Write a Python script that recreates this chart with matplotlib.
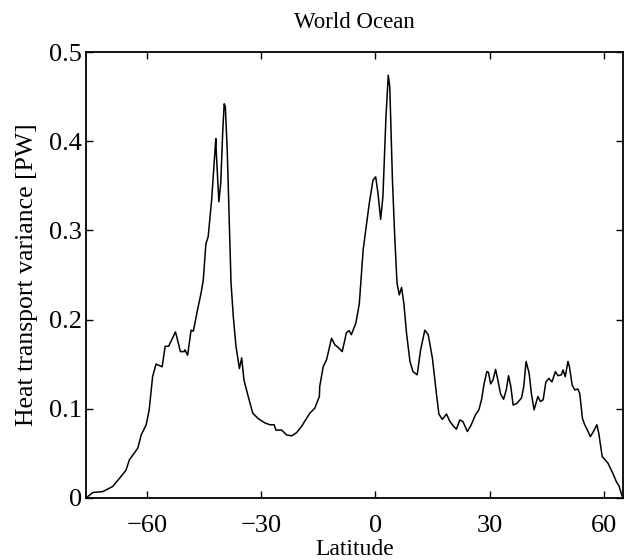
import numpy as np
from matplotlib import pyplot as plt

lat = [-75.5, -74.2, -71.6, -69.0, -66.8, -65.5, -64.6, -62.4, -61.5, -60.2,
       -59.4, -58.5, -57.6, -56.0, -55.2, -54.3, -52.5, -52.3, -51.2, -50.2,
       -50.0, -49.3, -48.4, -47.8, -46.7, -45.8, -45.2, -44.5, -43.9, -43.0,
       -41.9, -41.8, -41.1, -40.6, -40.1, -39.7, -39.4, -38.9, -38.4, -37.9,
       -37.3, -36.6, -35.7, -35.1, -34.5, -33.4, -32.2, -30.8, -29.0, -27.7,
       -26.6, -26.1, -24.6, -23.3, -22.0, -20.7, -19.4, -18.1, -17.2, -15.9,
       -14.7, -14.6, -13.7, -12.8, -11.5, -10.6, -9.8, -8.7, -7.6, -6.9,
       -6.3, -5.1, -4.2, -3.2, -1.6, -0.6, 0.1, 0.7, 1.4, 2.0,
       2.8, 3.4, 3.8, 4.5, 5.1, 5.7, 6.3, 6.9, 7.5, 8.2,
       9.1, 9.9, 11.0, 11.9, 13.0, 13.9, 15.0, 16.1, 16.7, 17.6,
       18.7, 19.6, 20.6, 21.3, 22.2, 23.0, 24.2, 25.2, 26.3, 27.2,
       27.9, 28.6, 29.3, 29.7, 30.3, 30.9, 31.6, 32.2, 32.9, 33.7,
       34.4, 35.0, 35.6, 36.2, 37.2, 38.4, 39.0, 39.6, 40.4, 41.0,
       41.7, 42.7, 43.4, 44.1, 44.8, 45.6, 46.4, 47.3, 48.0, 48.9,
       49.3, 49.9, 50.6, 51.0, 51.7, 52.4, 53.2, 53.7, 54.4, 55.0,
       55.7, 56.5, 57.3, 58.2, 58.7, 59.6, 60.2, 61.1, 62.3, 63.3,
       64.0, 64.6, 64.9]
variance = [0.0015, 0.006, 0.007, 0.0127, 0.024, 0.031, 0.0426, 0.0557, 0.0706, 0.0818,
            0.0987, 0.136, 0.150, 0.147, 0.170, 0.170, 0.186, 0.183, 0.164, 0.164,
            0.166, 0.160, 0.188, 0.187, 0.211, 0.229, 0.244, 0.285, 0.293, 0.334,
            0.403, 0.390, 0.332, 0.353, 0.409, 0.442, 0.439, 0.390, 0.315, 0.241,
            0.203, 0.170, 0.145, 0.157, 0.132, 0.114, 0.095, 0.089, 0.084, 0.082,
            0.082, 0.076, 0.076, 0.0706, 0.0695, 0.073, 0.080, 0.089, 0.095, 0.1006,
            0.1136, 0.125, 0.147, 0.155, 0.179, 0.1715, 0.169, 0.164, 0.185, 0.1876,
            0.183, 0.196, 0.218, 0.278, 0.330, 0.3565, 0.360, 0.3416, 0.3124, 0.338,
            0.4275, 0.474, 0.461, 0.3565, 0.293, 0.241, 0.2276, 0.236, 0.218, 0.1846,
            0.153, 0.1416, 0.138, 0.166, 0.188, 0.183, 0.1566, 0.115, 0.094, 0.088,
            0.094, 0.0856, 0.080, 0.077, 0.0874, 0.0856, 0.0744, 0.082, 0.093, 0.0987,
            0.110, 0.1286, 0.1416, 0.141, 0.1278, 0.132, 0.144, 0.132, 0.1166, 0.1106,
            0.121, 0.137, 0.1248, 0.104, 0.106, 0.112, 0.125, 0.153, 0.140, 0.117,
            0.0987, 0.1136, 0.108, 0.110, 0.130, 0.134, 0.130, 0.1416, 0.137, 0.138,
            0.1435, 0.136, 0.153, 0.147, 0.1267, 0.121, 0.122, 0.117, 0.0893, 0.082,
            0.0762, 0.0687, 0.0744, 0.082, 0.0725, 0.0463, 0.0434, 0.039, 0.0284, 0.0183,
            0.0135, 0.005, 0.0015]

xticks = [-60, -30, 0, 30, 60]
yticks = [0, 0.1, 0.2, 0.3, 0.4, 0.5]
ytick_labels = ['0', '0.1', '0.2', '0.3', '0.4', '0.5']

plt.rcParams['font.family'] = ['Liberation Serif', 'DejaVu Serif']

fig = plt.figure(figsize=(6.3, 5.6), dpi=100)
ax = fig.add_axes([0.1365, 0.111, 0.852, 0.796])
ax.plot(lat, variance, color='black', linewidth=1.1)

ax.set_xlim(-76, 65)
ax.set_ylim(0, 0.5)
ax.set_xticks(xticks)
ax.set_yticks(yticks)
ax.set_yticklabels(ytick_labels)
ax.tick_params(direction='in', length=5, width=1, labelsize=19,
               top=True, right=True)
ax.tick_params(axis='x', pad=12)
ax.tick_params(axis='y', pad=3)
for s in ax.spines.values():
    s.set_linewidth(1.3)

ax.set_title('World Ocean', fontsize=16.5, pad=17)
ax.set_xlabel('Latitude', fontsize=17, labelpad=2)
ax.set_ylabel('Heat transport variance [PW]', fontsize=18.5, labelpad=8)

fig.savefig('out.png', dpi=100)
